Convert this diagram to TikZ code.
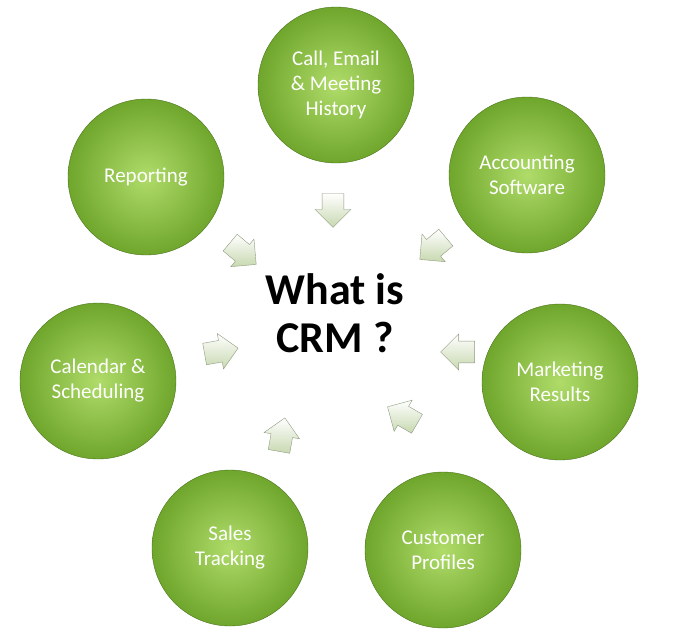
\documentclass[tikz,border=0pt]{standalone}
\usepackage{fontspec}
\setmainfont{Carlito}
\usetikzlibrary{shapes.arrows}
\definecolor{leafdark}{HTML}{6FA62C}
\definecolor{leaflight}{HTML}{B0DC6A}
\definecolor{arrowfill}{HTML}{C8D8B0}
\definecolor{arrowedge}{HTML}{8E9A80}
\tikzset{
    topic/.style={circle,minimum size=156pt,inner sep=0pt,draw=leafdark!70!black,
        inner color=leaflight,outer color=leafdark,text=white,align=center,
        font=\fontsize{21}{25}\selectfont},
    pointer/.style={single arrow,draw=arrowedge,top color=white,bottom color=arrowfill,
        minimum height=34pt,minimum width=36pt,single arrow head extend=6pt,inner sep=9pt}
}
\begin{document}
\begin{tikzpicture}[x=1pt,y=-1pt]
\useasboundingbox (0,0) rectangle (680,641);

% the seven topics
\node (history) [topic] at (336,85) {Call, Email\\\& Meeting\\History};
\node (accounting) [topic] at (527,175) {Accounting\\Software};
\node (marketing) [topic] at (560,382) {Marketing\\Results};
\node (customer) [topic] at (443,550) {Customer\\Profiles};
\node (sales) [topic] at (230,548) {Sales\\Tracking};
\node (calendar) [topic] at (98,381) {Calendar \&\\Scheduling};
\node (reporting) [topic] at (146,177) {Reporting};

\node (crm) [align=center,font=\fontsize{44}{48}\selectfont\bfseries] at (335,313) {What is\\CRM ?};

% arrows towards the centre
\node (p1) [pointer,rotate=-90] at (333,205) {};
\node (p2) [pointer,rotate=-140] at (437,245) {};
\node (p3) [pointer,rotate=180] at (463,352) {};
\node (p4) [pointer,rotate=150] at (407,418) {};
\node (p5) [pointer,rotate=80] at (281,440) {};
\node (p6) [pointer,rotate=10] at (216,352) {};
\node (p7) [pointer,rotate=-40] at (239,250) {};
\end{tikzpicture}
\end{document}
